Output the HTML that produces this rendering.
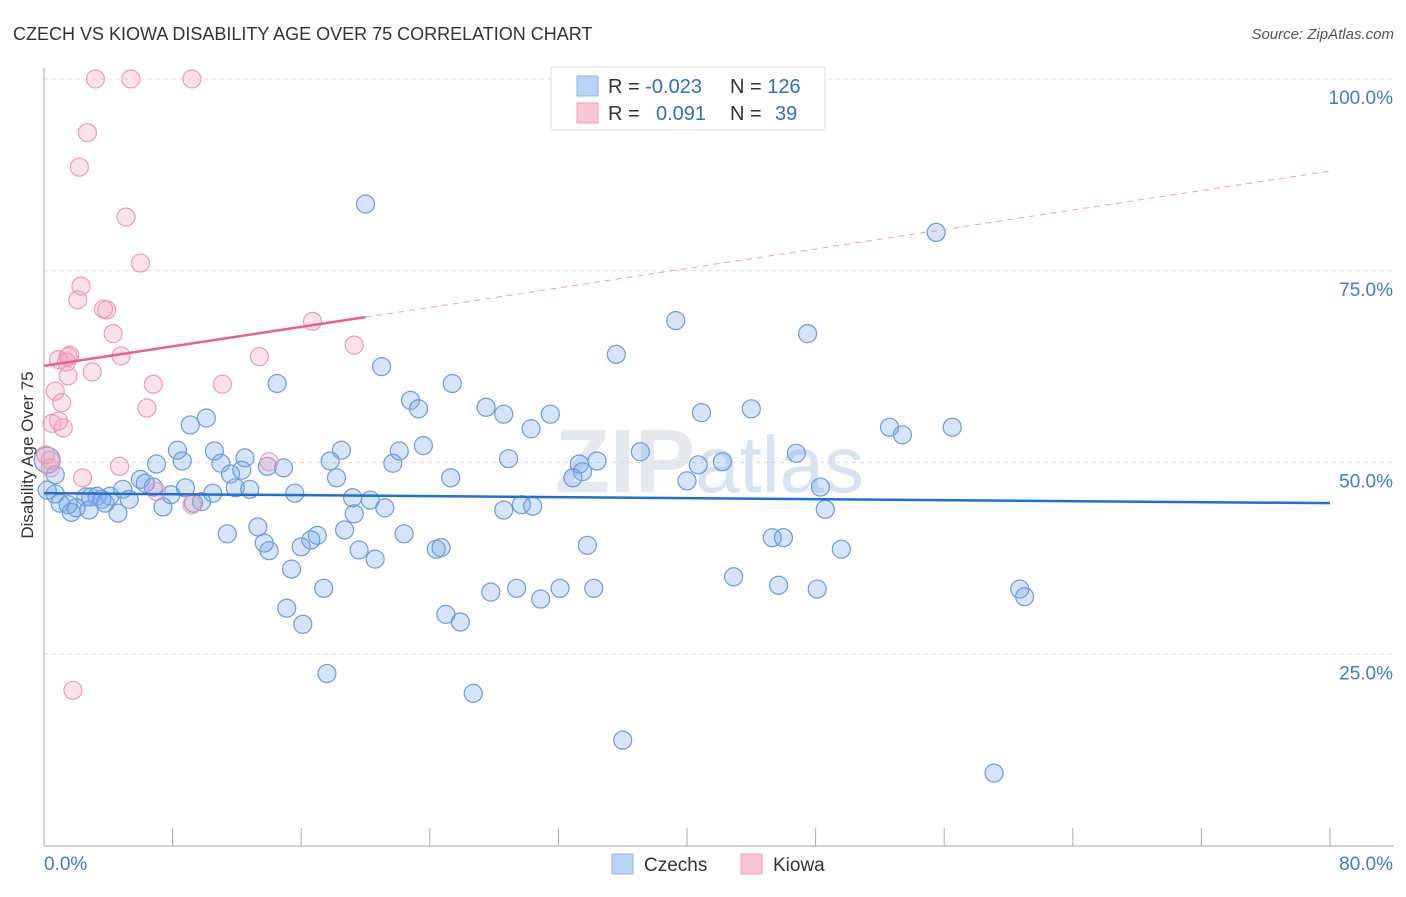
<!DOCTYPE html>
<html><head><meta charset="utf-8"><style>
body{margin:0;background:#fff;font-family:"Liberation Sans",sans-serif;}
svg text{font-family:"Liberation Sans",sans-serif;}
</style></head><body>
<svg id="chart" width="1406" height="892" viewBox="0 0 1406 892" xmlns="http://www.w3.org/2000/svg">
<text x="13" y="40" font-size="18" fill="#333">CZECH VS KIOWA DISABILITY AGE OVER 75 CORRELATION CHART</text>
<text x="1394" y="39" font-size="15" fill="#555" text-anchor="end" font-style="italic">Source: ZipAtlas.com</text>
<text x="555" y="492" font-size="90" fill="#e4e9f0" font-family="Liberation Serif" font-weight="bold">ZIP<tspan fill="#d6e3f3" font-family="Liberation Sans" font-weight="normal" font-size="80">atlas</tspan></text>
<g id="grid"></g>
<g id="yticks"></g>
<g id="xaxis"></g>
<text transform="translate(33,455) rotate(-90)" font-size="17" fill="#333" text-anchor="middle">Disability Age Over 75</text>
<g id="points"></g>
<g id="trends"></g>
<g>
<rect x="551" y="67" width="274" height="63" fill="#fff" stroke="#ddd"/>
<rect x="577" y="76" width="21" height="20" fill="#b8d3f5" stroke="#8fb5e8"/>
<rect x="577" y="103" width="21" height="20" fill="#f8c5d4" stroke="#eea3bb"/>
<text x="608" y="93" font-size="20" fill="#333">R = <tspan fill="#2a6fd0">-0.023</tspan></text>
<text x="730" y="93" font-size="20" fill="#333">N = <tspan fill="#2a6fd0">126</tspan></text>
<text x="608" y="120" font-size="20" fill="#333">R = <tspan fill="#2a6fd0" x="656">0.091</tspan></text>
<text x="730" y="120" font-size="20" fill="#333">N = <tspan fill="#2a6fd0" x="775">39</tspan></text>
</g>
<g>
<rect x="612" y="854" width="21" height="20" fill="#b8d3f5" stroke="#8fb5e8"/>
<text x="644" y="871" font-size="19" fill="#333">Czechs</text>
<rect x="741" y="854" width="21" height="20" fill="#f8c5d4" stroke="#eea3bb"/>
<text x="773" y="871" font-size="19" fill="#333">Kiowa</text>
</g>
</svg>
<script>
const czechX=[20.0,55.5,39.3,47.5,35.6,21.0,14.5,25.4,22.8,23.3,27.5,28.6,31.5,40.9,44.0,10.1,9.1,30.3,52.6,53.4,56.5,18.5,22.1,23.6,37.1,46.8,8.3,10.6,12.5,7.0,8.6,17.8,21.7,28.9,33.3,34.4,40.7,42.2,11.0,13.9,14.9,12.3,11.6,33.5,32.9,25.3,40.0,18.2,6.0,6.3,48.3,6.8,11.9,12.8,7.9,8.8,10.5,15.6,4.9,3.3,4.1,5.3,3.6,2.6,2.9,0.7,0.2,1.0,1.5,2.0,2.8,4.6,7.4,9.3,9.8,19.2,20.3,21.2,19.3,28.6,29.7,30.4,48.6,11.4,13.3,18.7,22.4,17.0,16.6,13.7,14.0,16.0,19.6,20.6,24.4,24.7,33.8,45.3,46.0,49.6,15.4,42.9,17.4,27.8,29.4,32.1,34.2,30.9,45.7,48.1,60.7,61.0,15.1,25.0,25.9,16.1,17.6,26.7,36.0,59.1,0.2,0.7,1.7,3.8];
const czechY=[83.7,80.0,68.5,66.8,64.1,62.5,60.3,60.3,58.1,57.0,57.2,56.3,56.3,56.5,57.0,55.8,54.9,54.4,54.6,53.6,54.6,51.6,51.5,52.2,51.4,51.2,51.6,51.5,50.6,49.8,50.2,50.2,49.9,50.5,49.8,50.2,49.7,50.1,49.9,49.5,49.3,49.0,48.5,48.8,48.0,48.0,47.6,48.0,47.8,47.3,46.8,46.8,46.7,46.5,45.8,46.7,46.0,46.0,46.5,45.6,45.6,45.2,45.2,45.5,45.5,45.9,46.4,44.7,44.5,44.1,43.8,43.4,44.2,44.7,44.9,45.4,45.1,44.1,43.3,43.8,44.5,44.3,43.9,40.7,41.6,41.2,40.7,40.5,39.9,39.5,38.5,39.0,38.6,37.4,38.7,38.9,39.2,40.2,40.2,38.7,36.1,35.1,33.6,33.1,33.6,33.6,33.6,32.2,34.0,33.5,33.5,32.5,31.0,30.2,29.2,28.9,22.5,19.9,13.8,9.5,50.3,48.4,43.5,44.7];
const kiowaX=[3.2,5.4,9.2,2.7,2.2,5.1,6.0,2.3,2.1,3.7,3.9,4.3,16.7,19.3,1.6,1.5,0.9,4.8,13.4,1.4,3.0,1.5,6.8,11.1,0.7,1.1,6.4,0.9,0.5,1.2,0.1,14.0,0.4,4.7,2.4,7.0,9.2,1.8,0.4];
const kiowaY=[100,100,100,93.0,88.5,82.0,76.0,73.0,71.2,70.0,69.9,66.8,68.4,65.3,64.0,63.8,63.4,63.9,63.8,63.1,61.8,61.3,60.2,60.2,59.3,57.8,57.1,55.4,55.1,54.5,51.0,50.1,49.3,49.5,48.0,46.2,44.5,20.3,50.3];
const czechTrend=[46.0,44.7];
const kiowaTrend=[62.6,88.0];
const yTicks=[25,50,75,100];
const xTickLabels=["0.0%","80.0%"];
const NS="http://www.w3.org/2000/svg";
const X=v=>44+v*(1286/80), Y=v=>846-v*7.67;
function mk(tag,attrs,parent){const e=document.createElementNS(NS,tag);for(const k in attrs)e.setAttribute(k,attrs[k]);parent.appendChild(e);return e;}
const grid=document.getElementById('grid'),yt=document.getElementById('yticks'),xa=document.getElementById('xaxis');
yTicks.forEach(t=>{
 const l=mk('line',{x1:44,x2:1394,y1:Y(t),y2:Y(t),stroke:'#dcdcdc','stroke-dasharray':'4,4'},grid);
 
 
 const tx=mk('text',{x:1393,y:Y(t)+25,'font-size':19,fill:'#3d7bd9','text-anchor':'end'},yt);
 tx.textContent=t.toFixed(1)+'%';
 
 
});
mk('line',{x1:44,x2:44,y1:68,y2:846,stroke:'#aaa'},xa);
mk('line',{x1:44,x2:1394,y1:846,y2:846,stroke:'#aaa'},xa);
for(let i=1;i<=10;i++){mk('line',{x1:X(i*8),x2:X(i*8),y1:828,y2:846,stroke:'#aaa'},xa);}
const l0=mk('text',{x:44,y:870,'font-size':19,fill:'#3d7bd9'},xa);l0.textContent=xTickLabels[0];


const l1=mk('text',{x:1393,y:870,'font-size':19,fill:'#3d7bd9','text-anchor':'end'},xa);l1.textContent=xTickLabels[1];


const pts=document.getElementById('points');
czechX.forEach((x,i)=>{const c=mk('circle',{cx:X(x),cy:Y(czechY[i]),r:i===120?13:9,fill:'rgba(120,165,235,0.3)',stroke:'#6a9be0','stroke-width':1.2},pts);
 
 });
kiowaX.forEach((x,i)=>{const c=mk('circle',{cx:X(x),cy:Y(kiowaY[i]),r:9,fill:'rgba(245,160,190,0.3)',stroke:'#ec9ab5','stroke-width':1.2},pts);
 
 });
const tr=document.getElementById('trends');
const ct=mk('line',{x1:X(0),y1:Y(czechTrend[0]),x2:X(80),y2:Y(czechTrend[1]),stroke:'#1f6fd6','stroke-width':2.5},tr);


const kAt=v=>kiowaTrend[0]+(kiowaTrend[1]-kiowaTrend[0])*v/80;
const kt=mk('line',{x1:X(0),y1:Y(kAt(0)),x2:X(20),y2:Y(kAt(20)),stroke:'#e8608a','stroke-width':2.5},tr);


const kd=mk('line',{x1:X(20),y1:Y(kAt(20)),x2:X(80),y2:Y(kAt(80)),stroke:'#e8a0b8','stroke-width':1,'stroke-dasharray':'6,5'},tr);


</script>
</body></html>
